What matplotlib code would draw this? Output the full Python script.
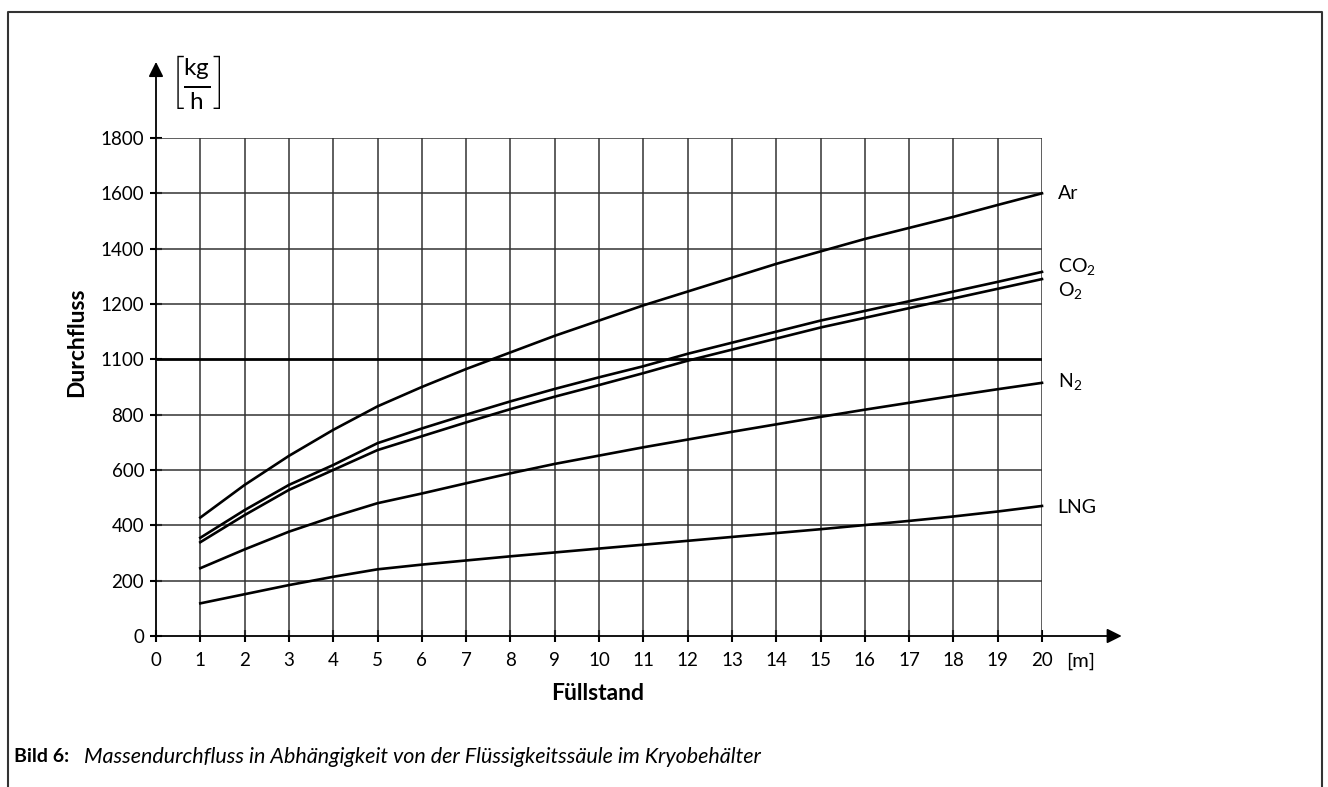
import matplotlib
matplotlib.use("Agg")
import matplotlib.pyplot as plt
from matplotlib.lines import Line2D

plt.rcParams['font.family'] = ['Lato', 'DejaVu Sans']
plt.rcParams['mathtext.fontset'] = 'custom'
plt.rcParams['mathtext.rm'] = 'Lato'
plt.rcParams['mathtext.it'] = 'Lato:italic'
plt.rcParams['mathtext.bf'] = 'Lato:bold'

# Füllstand [m]
level = [1, 2, 3, 4, 5, 6, 7, 8, 9, 10, 11, 12, 13, 14, 15, 16, 17, 18, 19, 20]

# Durchfluss [kg/h]
flow_ar = [428, 546, 651, 745, 830, 900, 965, 1025, 1085, 1140,
           1195, 1245, 1295, 1345, 1390, 1435, 1475, 1515, 1558, 1600]
flow_co2 = [355, 455, 546, 618, 697, 750, 800, 848, 893, 935,
            975, 1020, 1060, 1100, 1140, 1175, 1210, 1245, 1280, 1316]
flow_o2 = [339, 437, 528, 600, 672, 722, 772, 820, 865, 907,
           950, 995, 1035, 1075, 1115, 1150, 1185, 1220, 1255, 1290]
flow_n2 = [245, 313, 377, 431, 480, 515, 552, 588, 622, 652,
           682, 710, 738, 765, 792, 818, 843, 868, 892, 915]
flow_lng = [118, 151, 184, 214, 241, 258, 273, 288, 302, 316,
            330, 344, 358, 372, 386, 401, 416, 432, 450, 470]

series_names = ['Ar', 'CO$_2$', 'O$_2$', 'N$_2$', 'LNG']
series_values = [flow_ar, flow_co2, flow_o2, flow_n2, flow_lng]

x_ticks = list(range(0, 21))
y_ticks = [0, 200, 400, 600, 800, 1000, 1200, 1400, 1600, 1800]
y_tick_labels = ['0', '200', '400', '600', '800', '1100', '1200', '1400', '1600', '1800']

W, H = 1328, 787
fig = plt.figure(figsize=(W / 100, H / 100), dpi=100)

# axes placed so that 0..20 / 0..1800 match the drawing area
x0, x1 = 156, 1042
y0, y1 = 636, 138
ax = fig.add_axes([x0 / W, 1 - y0 / H, (x1 - x0) / W, (y0 - y1) / H])
ax.set_xlim(0, 20)
ax.set_ylim(0, 1800)
for s in ax.spines.values():
    s.set_visible(False)

# grid
ax.vlines(x_ticks[1:], 0, 1800, color='#333333', lw=1.1)
for yv in y_ticks[1:]:
    lw = 2.0 if yv == 1000 else 1.1
    col = 'black' if yv == 1000 else '#333333'
    ax.hlines(yv, 0, 20, color=col, lw=lw)

# axes with arrows
ax.annotate('', xy=(21.8, 0), xytext=(0, 0), annotation_clip=False,
            arrowprops=dict(arrowstyle='-|>', color='black', lw=1.3,
                            mutation_scale=22, shrinkA=0, shrinkB=0))
ax.annotate('', xy=(0, 2075), xytext=(0, 0), annotation_clip=False,
            arrowprops=dict(arrowstyle='-|>', color='black', lw=1.3,
                            mutation_scale=22, shrinkA=0, shrinkB=0))

ax.set_xticks(x_ticks)
ax.set_yticks(y_ticks)
ax.set_yticklabels(y_tick_labels)
ax.tick_params(direction='inout', length=9, width=1.5, labelsize=13.5,
               colors='black', pad=4)
ax.tick_params(axis='x', pad=7)

# curves
for name, vals in zip(series_names, series_values):
    ax.plot(level, vals, color='black', lw=1.9, clip_on=False)

label_offsets = {'Ar': 0, 'CO$_2$': 20, 'O$_2$': -40, 'N$_2$': 5, 'LNG': -5}
for name, vals in zip(series_names, series_values):
    ax.text(20.35, vals[-1] + label_offsets[name], name, fontsize=14,
            va='center', ha='left')

fig.text(1066 / W, 1 - 661 / H, '[m]', fontsize=14.5, ha='left', va='center')

fig.text(598 / W, 1 - 693 / H, 'Füllstand', fontsize=16.5, fontweight='bold',
         ha='center', va='center')
fig.text(77 / W, 1 - 342 / H, 'Durchfluss', fontsize=16.5, fontweight='bold',
         ha='center', va='center', rotation=90)
fig.text(196 / W, 1 - 83 / H, r'$\left[\frac{\mathrm{kg}}{\mathrm{h}}\right]$',
         fontsize=25, ha='center', va='center')

fig.text(14 / W, 1 - 757 / H, 'Bild 6:', fontsize=14, fontweight='bold',
         ha='left', va='center')
fig.text(84 / W, 1 - 757 / H,
         'Massendurchfluss in Abhängigkeit von der Flüssigkeitssäule im Kryobehälter',
         fontsize=15.5, style='italic', ha='left', va='center')

# frame (open at the bottom)
fx0, fx1, fy = 7.5 / W, 1322 / W, 1 - 12 / H
fig.add_artist(Line2D([fx0, fx0, fx1, fx1], [0, fy, fy, 0],
                      transform=fig.transFigure, color='#333333', lw=1.5))

fig.savefig('out.png', dpi=100)
